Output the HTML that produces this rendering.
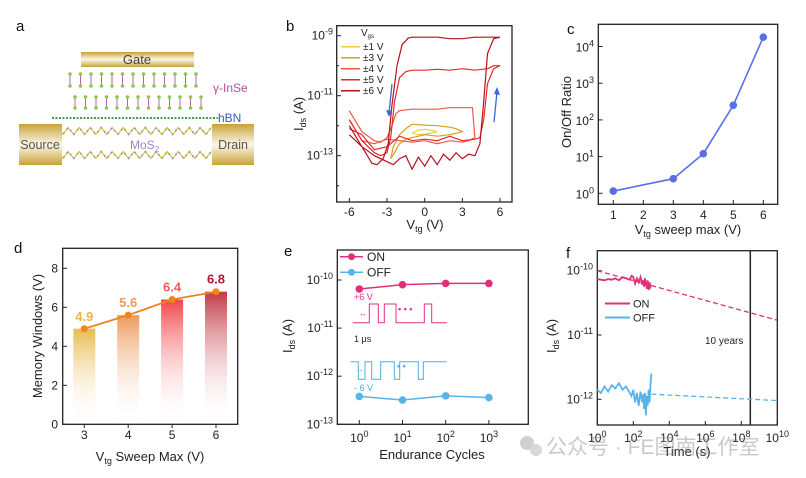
<!DOCTYPE html>
<html><head><meta charset="utf-8"><style>
html,body{margin:0;padding:0;background:#fff;}
svg{display:block;font-family:"Liberation Sans","Noto Sans CJK SC",sans-serif;}
.t{font-size:12px;fill:#222;}
.ti{font-size:13px;fill:#222;}
.pl{font-size:15px;fill:#111;}
</style></head><body>
<svg id="fig" width="806" height="478" viewBox="0 0 806 478">
<defs>
<linearGradient id="gold" x1="0" y1="0" x2="0" y2="1"><stop offset="0" stop-color="#c9a237"/><stop offset="0.5" stop-color="#fbf6e8"/><stop offset="1" stop-color="#c9a237"/></linearGradient>
<linearGradient id="gb1" x1="0" y1="0" x2="0" y2="1"><stop offset="0" stop-color="#e8bb50"/><stop offset="1" stop-color="#fff" stop-opacity="0"/></linearGradient>
<linearGradient id="gb2" x1="0" y1="0" x2="0" y2="1"><stop offset="0" stop-color="#ee9a5e"/><stop offset="1" stop-color="#fff" stop-opacity="0"/></linearGradient>
<linearGradient id="gb3" x1="0" y1="0" x2="0" y2="1"><stop offset="0" stop-color="#f2474a"/><stop offset="1" stop-color="#fff" stop-opacity="0"/></linearGradient>
<linearGradient id="gb4" x1="0" y1="0" x2="0" y2="1"><stop offset="0" stop-color="#c23a44"/><stop offset="1" stop-color="#fff" stop-opacity="0"/></linearGradient>
</defs>
<text class="pl" x="16" y="31">a</text>
<text class="pl" x="286" y="31">b</text>
<text class="pl" x="567" y="34">c</text>
<text class="pl" x="14" y="253">d</text>
<text class="pl" x="284" y="256">e</text>
<text class="pl" x="566" y="258">f</text>

<g>
<rect x="81" y="52" width="113" height="15" fill="url(#gold)"/>
<text x="137" y="64" text-anchor="middle" style="font-size:13px;fill:#444">Gate</text>
<g id="insel"></g>
<text x="213" y="92" style="font-size:12px;fill:#c04a9a">γ-InSe</text>
<line x1="52" y1="118" x2="218" y2="118" stroke="#4a9a5a" stroke-width="2" stroke-dasharray="2 1.5"/>
<text x="218" y="122" style="font-size:12px;fill:#3060c0">hBN</text>
<g id="mosl"></g>
<rect x="19" y="124" width="43" height="41" fill="url(#gold)"/>
<text x="40" y="149" text-anchor="middle" style="font-size:12.5px;fill:#555">Source</text>
<rect x="212" y="124" width="42" height="41" fill="url(#gold)"/>
<text x="233" y="149" text-anchor="middle" style="font-size:12.5px;fill:#555">Drain</text>
<text x="130" y="149" style="font-size:12px;fill:#a080c8">MoS<tspan font-size="8" dy="3">2</tspan></text>
</g>

<g>
<rect x="336.7" y="25.7" width="175.3" height="176.3" fill="none" stroke="#222" stroke-width="1.3"/>
<g id="bTicks"></g>
<text class="ti" transform="translate(303,114) rotate(-90)" text-anchor="middle">I<tspan font-size="9" dy="3">ds</tspan><tspan dy="-3"> (A)</tspan></text>
<text class="ti" x="425" y="229" text-anchor="middle">V<tspan font-size="9" dy="3">tg</tspan><tspan dy="-3">  (V)</tspan></text>
<g id="bCurves"></g>
<text x="361" y="36" style="font-size:10px;fill:#222">V<tspan font-size="6" dy="2">gs</tspan></text>
<g id="bLegend"></g>
<line x1="392" y1="84" x2="389" y2="113" stroke="#3a6ad0" stroke-width="1.3"/>
<polygon points="386,110 389,117 392,111" fill="#3a6ad0"/>
<line x1="494" y1="122" x2="497" y2="92" stroke="#3a6ad0" stroke-width="1.3"/>
<polygon points="494,94 497,87 500,95" fill="#3a6ad0"/>
</g>

<g>
<rect x="598.3" y="24.3" width="179.4" height="180" fill="none" stroke="#222" stroke-width="1.3"/>
<g id="cTicks"></g>
<text class="ti" transform="translate(571,112) rotate(-90)" text-anchor="middle">On/Off Ratio</text>
<text class="ti" x="688" y="234" text-anchor="middle">V<tspan font-size="9" dy="3">tg</tspan><tspan dy="-3">  sweep max (V)</tspan></text>
<g id="cMarks"></g>
</g>

<g>
<g id="dBars"></g>
<rect x="62.7" y="248.3" width="175" height="176" fill="none" stroke="#222" stroke-width="1.3"/>
<g id="dTicks"></g>
<text class="ti" transform="translate(42,336) rotate(-90)" text-anchor="middle">Memory Windows (V)</text>
<text class="ti" x="150" y="461" text-anchor="middle">V<tspan font-size="9" dy="3">tg</tspan><tspan dy="-3"> Sweep Max (V)</tspan></text>
<g id="dLine"></g>
</g>

<g>
<rect x="337.3" y="250" width="191" height="174.3" fill="none" stroke="#222" stroke-width="1.3"/>
<g id="eTicks"></g>
<text class="ti" transform="translate(292,336) rotate(-90)" text-anchor="middle">I<tspan font-size="9" dy="3">ds</tspan><tspan dy="-3"> (A)</tspan></text>
<text class="ti" x="432" y="459" text-anchor="middle">Endurance Cycles</text>
<g id="eMarks"></g>
<path d="M352.7,322.7 H369.3 V304 H378.3 V322.7 H384.3 V304 H396 V322.7 H424.3 V304 H431.7 V322.7 H446.7" fill="none" stroke="#e0308a" stroke-width="1"/>
<text x="359" y="316" style="font-size:8px;fill:#e0308a">↔</text>
<text x="398" y="312" style="font-size:9px;fill:#e0308a;font-weight:bold">• • •</text>
<text x="354" y="300" style="font-size:9px;fill:#e0308a">+6 V</text>
<text x="354" y="342" style="font-size:9px;fill:#222">1 μs</text>
<path d="M350.7,361.7 H358.3 V379.3 H365 V361.7 H371.7 V379.3 H380.7 V361.7 H394.3 V379.3 H399.7 V361.7 H418.3 V379.3 H423.3 V361.7 H440 V361.7 H446.7" fill="none" stroke="#4ab0e0" stroke-width="1"/>
<text x="356" y="372" style="font-size:8px;fill:#4ab0e0">↔</text>
<text x="397" y="369" style="font-size:9px;fill:#4ab0e0;font-weight:bold">• •</text>
<text x="354" y="391" style="font-size:9px;fill:#4ab0e0">- 6 V</text>
<line x1="340" y1="256.7" x2="363" y2="256.7" stroke="#e0307a" stroke-width="1.5"/>
<circle cx="351.5" cy="256.7" r="3.5" fill="#e0307a"/>
<text x="367" y="261" style="font-size:12px;fill:#222">ON</text>
<line x1="340" y1="272.3" x2="363" y2="272.3" stroke="#58b4ea" stroke-width="1.5"/>
<circle cx="351.5" cy="272.3" r="3.5" fill="#58b4ea"/>
<text x="367" y="276.5" style="font-size:12px;fill:#222">OFF</text>
</g>

<g>
<rect x="597.3" y="250.7" width="180" height="174.3" fill="none" stroke="#222" stroke-width="1.3"/>
<g id="fTicks"></g>
<g id="fMarks"></g>
<text class="ti" transform="translate(556,336) rotate(-90)" text-anchor="middle">I<tspan font-size="9" dy="3">ds</tspan><tspan dy="-3"> (A)</tspan></text>
<text x="705" y="344" style="font-size:10px;fill:#222">10 years</text>
<line x1="605" y1="303.5" x2="630" y2="303.5" stroke="#e0307a" stroke-width="2"/>
<text x="633" y="307.5" style="font-size:11px;fill:#222">ON</text>
<line x1="605" y1="317.5" x2="630" y2="317.5" stroke="#58b4ea" stroke-width="2"/>
<text x="633" y="321.5" style="font-size:11px;fill:#222">OFF</text>
<text class="ti" x="687" y="456" text-anchor="middle">Time (s)</text>
</g>
<g opacity="0.45">
<circle cx="527" cy="443" r="7" fill="#999"/>
<circle cx="536" cy="450" r="6" fill="#aaa"/>
<text x="546" y="454" style="font-size:21px;fill:#888">公众号 · FE图南工作室</text>
</g>
</svg>
<script>
var bSweepLabels = ['±1 V','±3 V','±4 V','±5 V','±6 V'];
var bColors = ['#e8d040','#d4a020','#ec5a48','#e52a2e','#b8101a'];
var b1V = [-1,-0.5,0,0.5,1,0.5,0,-0.5,-1];
var b1L = [-12.25,-12.15,-12.12,-12.15,-12.2,-12.25,-12.28,-12.3,-12.25];
var b3V = [-2.7,-2.5,-2,-1.5,-1,0,1,2,2.5,3,2.5,2,1,0,-1,-1.5,-2,-2.4,-2.7];
var b3L = [-13.1,-12.7,-12.3,-12.1,-11.95,-11.98,-12.0,-12.05,-12.1,-12.2,-12.25,-12.3,-12.35,-12.3,-12.4,-12.45,-12.6,-12.9,-13.1];
var b4V = [-6,-5,-4,-3.5,-3,-2.6,-2.3,-2,-1,0,1,2,3,3.8,4,3.5,3,2,1,0,-1,-2,-3,-4,-5,-6];
var b4L = [-11.5,-12.2,-12.5,-12.55,-12.4,-12.0,-11.6,-11.5,-11.45,-11.45,-11.45,-11.4,-11.4,-11.4,-12.4,-12.5,-12.55,-12.5,-12.6,-12.5,-12.55,-12.5,-12.45,-12.6,-12.5,-11.8];
var b5V = [-6,-5,-4,-3.5,-3,-2.7,-2.4,-2,-1.5,-1,0,1,2,3,4,5,5.5,6,5.5,5,4.7,4.4,4,3,2,1,0,-1,-2,-3,-4,-5,-6];
var b5L = [-11.8,-12.5,-12.9,-13.0,-12.9,-12.4,-11.2,-10.4,-10.2,-10.15,-10.15,-10.12,-10.15,-10.1,-10.15,-10.1,-10.0,-10.0,-10.1,-10.6,-11.8,-12.4,-12.45,-12.5,-12.35,-12.5,-12.45,-12.5,-12.35,-12.7,-12.8,-12.3,-12.1];
var b6V = [-6,-5,-4.2,-3.8,-3.3,-2.9,-2.6,-2.2,-1.8,-1.3,-1,0,1,2,3,4,5,5.5,6,5.5,5,4.7,4.4,4,3.5,3,2.5,2,1.5,1,0.5,0,-0.5,-1,-1.5,-2,-2.5,-3,-4,-5,-6];
var b6L = [-12.0,-12.7,-13.25,-13.3,-13.1,-12.6,-11.3,-10.0,-9.3,-9.08,-9.05,-9.05,-9.05,-9.1,-9.1,-9.05,-9.05,-9.05,-9.05,-9.1,-9.6,-11.2,-12.6,-13.0,-12.95,-13.1,-12.9,-13.15,-12.95,-13.3,-13.0,-13.35,-13.05,-13.45,-13.0,-13.1,-13.3,-13.2,-13.0,-12.7,-12.3];
var bXTicks = [-6,-3,0,3,6];
var bYTicks = [-9,-11,-13];

var cSweep = [1,3,4,5,6];
var cRatio = [1.15,2.5,12,250,18000];
var cXTicks = [1,2,3,4,5,6];
var cYExp = [0,1,2,3,4];

var dSweep = [3,4,5,6];
var dWindow = [4.9,5.6,6.4,6.8];
var dLabels = ['4.9','5.6','6.4','6.8'];
var dLabelColors = ['#e8b84a','#ee9a5e','#f05a5a','#b01830'];
var dYTicks = [0,2,4,6,8];

var eCycles = [1,10,100,1000];
var eOn = [6.5e-11,8e-11,8.5e-11,8.5e-11];
var eOff = [3.8e-13,3.2e-13,3.9e-13,3.6e-13];
var eXExp = [0,1,2,3];
var eYExp = [-10,-11,-12,-13];

var fTimeExp = [0,0.2,0.4,0.6,0.8,1.0,1.2,1.4,1.6,1.8,1.9,2.0,2.1,2.2,2.3,2.4,2.5,2.55,2.6,2.65,2.7,2.75,2.8,2.85,2.9,2.95,3.0];
var fOnLog = [-10.13,-10.14,-10.15,-10.13,-10.14,-10.12,-10.15,-10.1,-10.12,-10.14,-10.08,-10.1,-10.2,-10.12,-10.18,-10.1,-10.22,-10.15,-10.25,-10.12,-10.2,-10.28,-10.15,-10.3,-10.18,-10.25,-10.22];
var fOffLog = [-11.85,-11.9,-11.8,-11.88,-11.78,-11.83,-11.75,-11.85,-11.8,-11.9,-11.95,-11.85,-12.05,-11.9,-12.1,-11.88,-12.05,-11.92,-12.15,-11.9,-12.25,-11.95,-12.1,-11.85,-12.05,-11.8,-11.6];
var fOnFitExp = [0,10];
var fOnFitLog = [-10.0,-10.77];
var fOffFitExp = [3,10];
var fOffFitLog = [-11.92,-12.02];
var fTenYearsExp = [8.5];
var fXExp = [0,2,4,6,8,10];
var fYExp = [-10,-11,-12];

var NS='http://www.w3.org/2000/svg';
function mk(tag,parent){var e=document.createElementNS(NS,tag);document.getElementById(parent).appendChild(e);return e;}
function sup(el,base,exp){el.textContent=base;var s=document.createElementNS(NS,'tspan');s.setAttribute('font-size','9');s.setAttribute('dy','-5');s.textContent=exp;el.appendChild(s);}
function lg(v){return Math.log(v)/Math.LN10;}

(function(){
  var rows=[[70,205,74,86,'#c060b0'],[75,210,97,108,'#c060b0']];
  rows.forEach(function(r){
    for(var x=r[0];x<r[1];x+=10.5){
      var l=mk('line','insel');l.setAttribute('x1',x);l.setAttribute('x2',x);l.setAttribute('y1',r[2]);l.setAttribute('y2',r[3]);l.setAttribute('stroke',r[4]);l.setAttribute('stroke-width','1');
      
      
      var c1=mk('circle','insel');c1.setAttribute('cx',x);c1.setAttribute('cy',r[2]);c1.setAttribute('r','1.8');c1.setAttribute('fill','#8cc84a');
      
      
      var c2=mk('circle','insel');c2.setAttribute('cx',x);c2.setAttribute('cy',r[3]);c2.setAttribute('r','1.8');c2.setAttribute('fill','#8cc84a');
      
      
    }
  });
  [131,155].forEach(function(y){
    var d='M60,'+y;
    for(var x=60;x<214;x+=5.5){d+=' L'+(x+2.75)+','+(y+((Math.round((x-60)/5.5))%2?-3.5:3.5));}
    var p=mk('path','mosl');p.setAttribute('d',d);p.setAttribute('fill','none');p.setAttribute('stroke','#c8d040');p.setAttribute('stroke-width','1.3');
    
    
    var p2=mk('path','mosl');p2.setAttribute('d',d);p2.setAttribute('fill','none');p2.setAttribute('stroke','#a080c8');p2.setAttribute('stroke-width','1.6');p2.setAttribute('stroke-dasharray','1.5 4');
    
    
  });
})();

function bX(v){return 349.3+(v+6)*12.56;}
function bY(l){return 35.7+(-9-l)*30;}
bXTicks.forEach(function(v){
  var t=mk('line','bTicks');t.setAttribute('x1',bX(v));t.setAttribute('x2',bX(v));t.setAttribute('y1',202);t.setAttribute('y2',198);t.setAttribute('stroke','#222');
  
  
  var s=mk('text','bTicks');s.setAttribute('x',bX(v));s.setAttribute('y',216);s.setAttribute('text-anchor','middle');s.setAttribute('class','t');s.textContent=v;
  
  
});
bYTicks.forEach(function(e){
  var t=mk('line','bTicks');t.setAttribute('x1',336.7);t.setAttribute('x2',341);t.setAttribute('y1',bY(e));t.setAttribute('y2',bY(e));t.setAttribute('stroke','#222');
  
  
  var s=mk('text','bTicks');s.setAttribute('x',333);s.setAttribute('y',bY(e)+4);s.setAttribute('text-anchor','end');s.setAttribute('class','t');sup(s,'10',String(e));
  
  
});
[-10,-12,-14].forEach(function(e){
  var t=mk('line','bTicks');t.setAttribute('x1',336.7);t.setAttribute('x2',339);t.setAttribute('y1',bY(e));t.setAttribute('y2',bY(e));t.setAttribute('stroke','#222');
  
  
});
var bV=[b1V,b3V,b4V,b5V,b6V], bL=[b1L,b3L,b4L,b5L,b6L];
for(var i=0;i<5;i++){
  var d='';
  for(var j=0;j<bV[i].length;j++){d+=(j?' L':'M')+bX(bV[i][j]).toFixed(1)+','+bY(bL[i][j]).toFixed(1);}
  var p=mk('path','bCurves');p.setAttribute('d',d);p.setAttribute('fill','none');p.setAttribute('stroke',bColors[i]);p.setAttribute('stroke-width','1.2');
  
  
  var ly=46.7+i*11;
  var l=mk('line','bLegend');l.setAttribute('x1',341);l.setAttribute('x2',360);l.setAttribute('y1',ly);l.setAttribute('y2',ly);l.setAttribute('stroke',bColors[i]);l.setAttribute('stroke-width','1.5');
  
  
  var tx=mk('text','bLegend');tx.setAttribute('x',363);tx.setAttribute('y',ly+3.5);tx.setAttribute('style','font-size:10px;fill:#222');tx.textContent=bSweepLabels[i];
  
  
}

function cX(v){return 613.3+(v-1)*30;}
function cY(r){return 193.3-lg(r)*36.7;}
cXTicks.forEach(function(v){
  var t=mk('line','cTicks');t.setAttribute('x1',cX(v));t.setAttribute('x2',cX(v));t.setAttribute('y1',204.3);t.setAttribute('y2',200);t.setAttribute('stroke','#222');
  
  
  var s=mk('text','cTicks');s.setAttribute('x',cX(v));s.setAttribute('y',219);s.setAttribute('text-anchor','middle');s.setAttribute('class','t');s.textContent=v;
  
  
});
cYExp.forEach(function(e){
  var y=cY(Math.pow(10,e));
  var t=mk('line','cTicks');t.setAttribute('x1',598.3);t.setAttribute('x2',602.5);t.setAttribute('y1',y);t.setAttribute('y2',y);t.setAttribute('stroke','#222');
  
  
  var s=mk('text','cTicks');s.setAttribute('x',594);s.setAttribute('y',y+5);s.setAttribute('text-anchor','end');s.setAttribute('class','t');sup(s,'10',String(e));
  
  
});
(function(){
  var d='';cSweep.forEach(function(v,k){d+=(k?' L':'M')+cX(v)+','+cY(cRatio[k]);});
  var p=mk('path','cMarks');p.setAttribute('d',d);p.setAttribute('fill','none');p.setAttribute('stroke','#5a6ee8');p.setAttribute('stroke-width','1.6');
  
  
  cSweep.forEach(function(v,k){
    var c=mk('circle','cMarks');c.setAttribute('cx',cX(v));c.setAttribute('cy',cY(cRatio[k]));c.setAttribute('r','3.8');c.setAttribute('fill','#5a6ee8');
    
    
  });
})();

function dX(v){return 84.3+(v-3)*43.9;}
function dY(v){return 424.3-v*19.5;}
dYTicks.forEach(function(v){
  var t=mk('line','dTicks');t.setAttribute('x1',62.7);t.setAttribute('x2',67);t.setAttribute('y1',dY(v));t.setAttribute('y2',dY(v));t.setAttribute('stroke','#222');
  
  
  var s=mk('text','dTicks');s.setAttribute('x',58);s.setAttribute('y',dY(v)+4);s.setAttribute('text-anchor','end');s.setAttribute('class','t');s.textContent=v;
  
  
});
dSweep.forEach(function(v,k){
  var t=mk('line','dTicks');t.setAttribute('x1',dX(v));t.setAttribute('x2',dX(v));t.setAttribute('y1',424.3);t.setAttribute('y2',428);t.setAttribute('stroke','#222');
  
  
  var s=mk('text','dTicks');s.setAttribute('x',dX(v));s.setAttribute('y',439);s.setAttribute('text-anchor','middle');s.setAttribute('class','t');s.textContent=v;
  
  
  var b=mk('rect','dBars');b.setAttribute('x',dX(v)-11);b.setAttribute('width',22);b.setAttribute('y',dY(dWindow[k]));b.setAttribute('height',dY(0)-dY(dWindow[k]));b.setAttribute('fill','url(#gb'+(k+1)+')');
  
  
  var lb=mk('text','dLine');lb.setAttribute('x',dX(v));lb.setAttribute('y',dY(dWindow[k])-8);lb.setAttribute('text-anchor','middle');lb.setAttribute('style','font-size:13px;font-weight:bold;fill:'+dLabelColors[k]);lb.textContent=dLabels[k];
  
  
});
(function(){
  var d='';dSweep.forEach(function(v,k){d+=(k?' L':'M')+dX(v)+','+dY(dWindow[k]);});
  var p=mk('path','dLine');p.setAttribute('d',d);p.setAttribute('fill','none');p.setAttribute('stroke','#f0861a');p.setAttribute('stroke-width','1.8');
  
  
  dSweep.forEach(function(v,k){
    var c=mk('circle','dLine');c.setAttribute('cx',dX(v));c.setAttribute('cy',dY(dWindow[k]));c.setAttribute('r','3.5');c.setAttribute('fill','#f0861a');
    
    
  });
})();

function eX(c){return 359.3+lg(c)*43.2;}
function eY(i){return 280+(-10-lg(i))*48.1;}
eXExp.forEach(function(e){
  var x=eX(Math.pow(10,e));
  var t=mk('line','eTicks');t.setAttribute('x1',x);t.setAttribute('x2',x);t.setAttribute('y1',424.3);t.setAttribute('y2',420);t.setAttribute('stroke','#222');
  
  
  var s=mk('text','eTicks');s.setAttribute('x',x);s.setAttribute('y',442);s.setAttribute('text-anchor','middle');s.setAttribute('class','t');sup(s,'10',String(e));
  
  
});
eYExp.forEach(function(e){
  var y=eY(Math.pow(10,e));
  var t=mk('line','eTicks');t.setAttribute('x1',337.3);t.setAttribute('x2',341.5);t.setAttribute('y1',y);t.setAttribute('y2',y);t.setAttribute('stroke','#222');
  
  
  var s=mk('text','eTicks');s.setAttribute('x',333);s.setAttribute('y',y+4);s.setAttribute('text-anchor','end');s.setAttribute('class','t');sup(s,'10',String(e));
  
  
});
[[eOn,'#e0307a','e-on'],[eOff,'#58b4ea','e-off']].forEach(function(sr){
  var d='';eCycles.forEach(function(c,k){d+=(k?' L':'M')+eX(c)+','+eY(sr[0][k]);});
  var p=mk('path','eMarks');p.setAttribute('d',d);p.setAttribute('fill','none');p.setAttribute('stroke',sr[1]);p.setAttribute('stroke-width','1.5');
  
  
  eCycles.forEach(function(c,k){
    var m=mk('circle','eMarks');m.setAttribute('cx',eX(c));m.setAttribute('cy',eY(sr[0][k]));m.setAttribute('r','3.8');m.setAttribute('fill',sr[1]);
    
    
  });
});

function fX(e){return 597.3+e*18;}
function fY(l){return 270.7+(-10-l)*64.3;}
fXExp.forEach(function(e){
  var t=mk('line','fTicks');t.setAttribute('x1',fX(e));t.setAttribute('x2',fX(e));t.setAttribute('y1',425);t.setAttribute('y2',421);t.setAttribute('stroke','#222');
  
  
  var s=mk('text','fTicks');s.setAttribute('x',fX(e));s.setAttribute('y',442);s.setAttribute('text-anchor','middle');s.setAttribute('class','t');sup(s,'10',String(e));
  
  
});
fYExp.forEach(function(e){
  var t=mk('line','fTicks');t.setAttribute('x1',597.3);t.setAttribute('x2',601.5);t.setAttribute('y1',fY(e));t.setAttribute('y2',fY(e));t.setAttribute('stroke','#222');
  
  
  var s=mk('text','fTicks');s.setAttribute('x',593);s.setAttribute('y',fY(e)+4);s.setAttribute('text-anchor','end');s.setAttribute('class','t');sup(s,'10',String(e));
  
  
});
(function(){
  var vl=mk('line','fMarks');vl.setAttribute('x1',fX(fTenYearsExp[0]));vl.setAttribute('x2',fX(fTenYearsExp[0]));vl.setAttribute('y1',250.7);vl.setAttribute('y2',425);vl.setAttribute('stroke','#222');vl.setAttribute('stroke-width','1.5');
  
  
  var fits=[[fOnFitExp,fOnFitLog,'#e0307a','f-on-fit'],[fOffFitExp,fOffFitLog,'#58b4ea','f-off-fit']];
  fits.forEach(function(f){
    var l=mk('line','fMarks');l.setAttribute('x1',fX(f[0][0]));l.setAttribute('y1',fY(f[1][0]));l.setAttribute('x2',fX(f[0][1]));l.setAttribute('y2',fY(f[1][1]));l.setAttribute('stroke',f[2]);l.setAttribute('stroke-width','1.3');l.setAttribute('stroke-dasharray','5 3');
    
    
  });
  [[fOnLog,'#e0307a','f-on-trace'],[fOffLog,'#58b4ea','f-off-trace']].forEach(function(s){
    var d='';fTimeExp.forEach(function(e,k){d+=(k?' L':'M')+fX(e).toFixed(1)+','+fY(s[0][k]).toFixed(1);});
    var p=mk('path','fMarks');p.setAttribute('d',d);p.setAttribute('fill','none');p.setAttribute('stroke',s[1]);p.setAttribute('stroke-width','1.8');
    
    
  });
})();
</script>
</body></html>
